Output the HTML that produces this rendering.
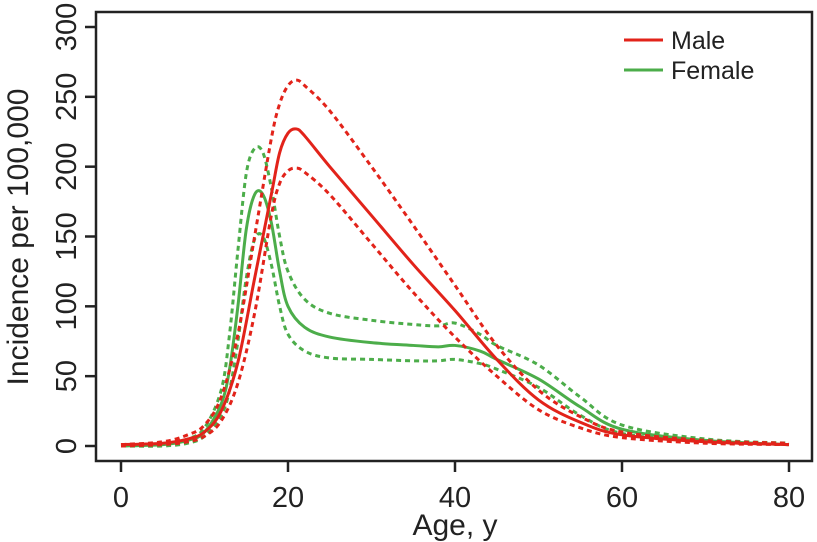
<!DOCTYPE html>
<html><head><meta charset="utf-8"><style>
html,body{margin:0;padding:0;background:#fff;}
svg{display:block;font-family:"Liberation Sans",sans-serif;}
</style></head><body>
<svg id="chart" width="817" height="542">
<rect x="96" y="12" width="716" height="449" fill="none" stroke="#222" stroke-width="2.5"/>
<g id="axes"></g>
<g id="series"></g>
<text x="455" y="535" font-size="30" text-anchor="middle" fill="#222">Age, y</text>
<text transform="translate(28,237) rotate(-90)" font-size="30" text-anchor="middle" fill="#222">Incidence per 100,000</text>
<g>
<line x1="624" y1="40" x2="663" y2="40" stroke="#e2231a" stroke-width="3"/>
<text x="671" y="49" font-size="25" fill="#222">Male</text>
<line x1="624" y1="70" x2="663" y2="70" stroke="#4cad4a" stroke-width="3"/>
<text x="671" y="79" font-size="25" fill="#222">Female</text>
</g>
</svg>
<script>
const xTicks=[0,20,40,60,80];
const yTicks=[0,50,100,150,200,250,300];
const maleAges=[0,5,8,10,12,14,16,18,19,20,21,22,25,30,35,40,45,50,55,60,70,80];
const maleMid=[1,2,5,10,25,60,120,180,210,224,227,222,200,165,130,97,62,33,17,8,3,1];
const maleUpper=[1,3,8,15,35,80,150,220,245,258,262,258,240,200,158,115,72,40,21,10,4,2];
const maleLower=[0,1,3,7,18,45,95,165,188,197,199,196,180,145,110,78,50,26,13,6,2,1];
const femaleAges=[0,5,8,10,12,13,14,15,16,17,18,19,20,22,25,30,35,38,40,43,45,50,55,60,70,80];
const femaleMid=[0,1,4,10,30,55,100,155,180,180,160,125,100,85,78,74,72,71,72,68,62,48,28,12,4,1];
const femaleUpper=[0,1,5,13,40,80,140,195,213,210,185,150,125,105,95,90,87,86,88,80,72,58,35,15,5,2];
const femaleLower=[0,0,2,7,22,40,75,120,148,150,130,100,80,68,63,62,61,61,62,59,55,42,22,9,3,1];

const X=v=>121+v*(789-121)/80;
const Y=v=>446-v*(446-27)/300;
const NS="http://www.w3.org/2000/svg";
const axes=document.getElementById('axes'), ser=document.getElementById('series');
xTicks.forEach(t=>{
  const l=document.createElementNS(NS,'line');
  l.setAttribute('x1',X(t));l.setAttribute('x2',X(t));l.setAttribute('y1',461);l.setAttribute('y2',472);
  l.setAttribute('stroke','#222');l.setAttribute('stroke-width','2.5');
  
  
  axes.appendChild(l);
  const s=document.createElementNS(NS,'text');
  s.setAttribute('x',X(t));s.setAttribute('y',507);s.setAttribute('font-size','29');s.setAttribute('text-anchor','middle');s.setAttribute('fill','#222');
  s.textContent=t;
  
  
  axes.appendChild(s);
});
yTicks.forEach(t=>{
  const l=document.createElementNS(NS,'line');
  l.setAttribute('x1',85);l.setAttribute('x2',96);l.setAttribute('y1',Y(t));l.setAttribute('y2',Y(t));
  l.setAttribute('stroke','#222');l.setAttribute('stroke-width','2.5');
  
  
  axes.appendChild(l);
  const s=document.createElementNS(NS,'text');
  s.setAttribute('transform','translate(76,'+Y(t)+') rotate(-90)');s.setAttribute('font-size','29');s.setAttribute('text-anchor','middle');s.setAttribute('fill','#222');
  s.textContent=t;
  
  
  axes.appendChild(s);
});
function path(ages,vals){
  const p=ages.map((a,i)=>[X(a),Y(vals[i])]);
  let d='M'+p[0][0]+','+p[0][1];
  for(let i=0;i<p.length-1;i++){
    const p0=p[Math.max(0,i-1)],p1=p[i],p2=p[i+1],p3=p[Math.min(p.length-1,i+2)];
    const c1=[p1[0]+(p2[0]-p0[0])/6,p1[1]+(p2[1]-p0[1])/6];
    const c2=[p2[0]-(p3[0]-p1[0])/6,p2[1]-(p3[1]-p1[1])/6];
    d+=' C'+c1+' '+c2+' '+p2;
  }
  return d;
}
function draw(ages,vals,color,dash,name){
  const e=document.createElementNS(NS,'path');
  e.setAttribute('d',path(ages,vals));e.setAttribute('fill','none');e.setAttribute('stroke',color);
  e.setAttribute('stroke-width','3');if(dash)e.setAttribute('stroke-dasharray','5 4');
  
  
  ser.appendChild(e);
}
draw(femaleAges,femaleUpper,'#4cad4a',true,'female-upper-ci');
draw(femaleAges,femaleLower,'#4cad4a',true,'female-lower-ci');
draw(femaleAges,femaleMid,'#4cad4a',false,'female-line');
draw(maleAges,maleUpper,'#e2231a',true,'male-upper-ci');
draw(maleAges,maleLower,'#e2231a',true,'male-lower-ci');
draw(maleAges,maleMid,'#e2231a',false,'male-line');
</script>
</body></html>
